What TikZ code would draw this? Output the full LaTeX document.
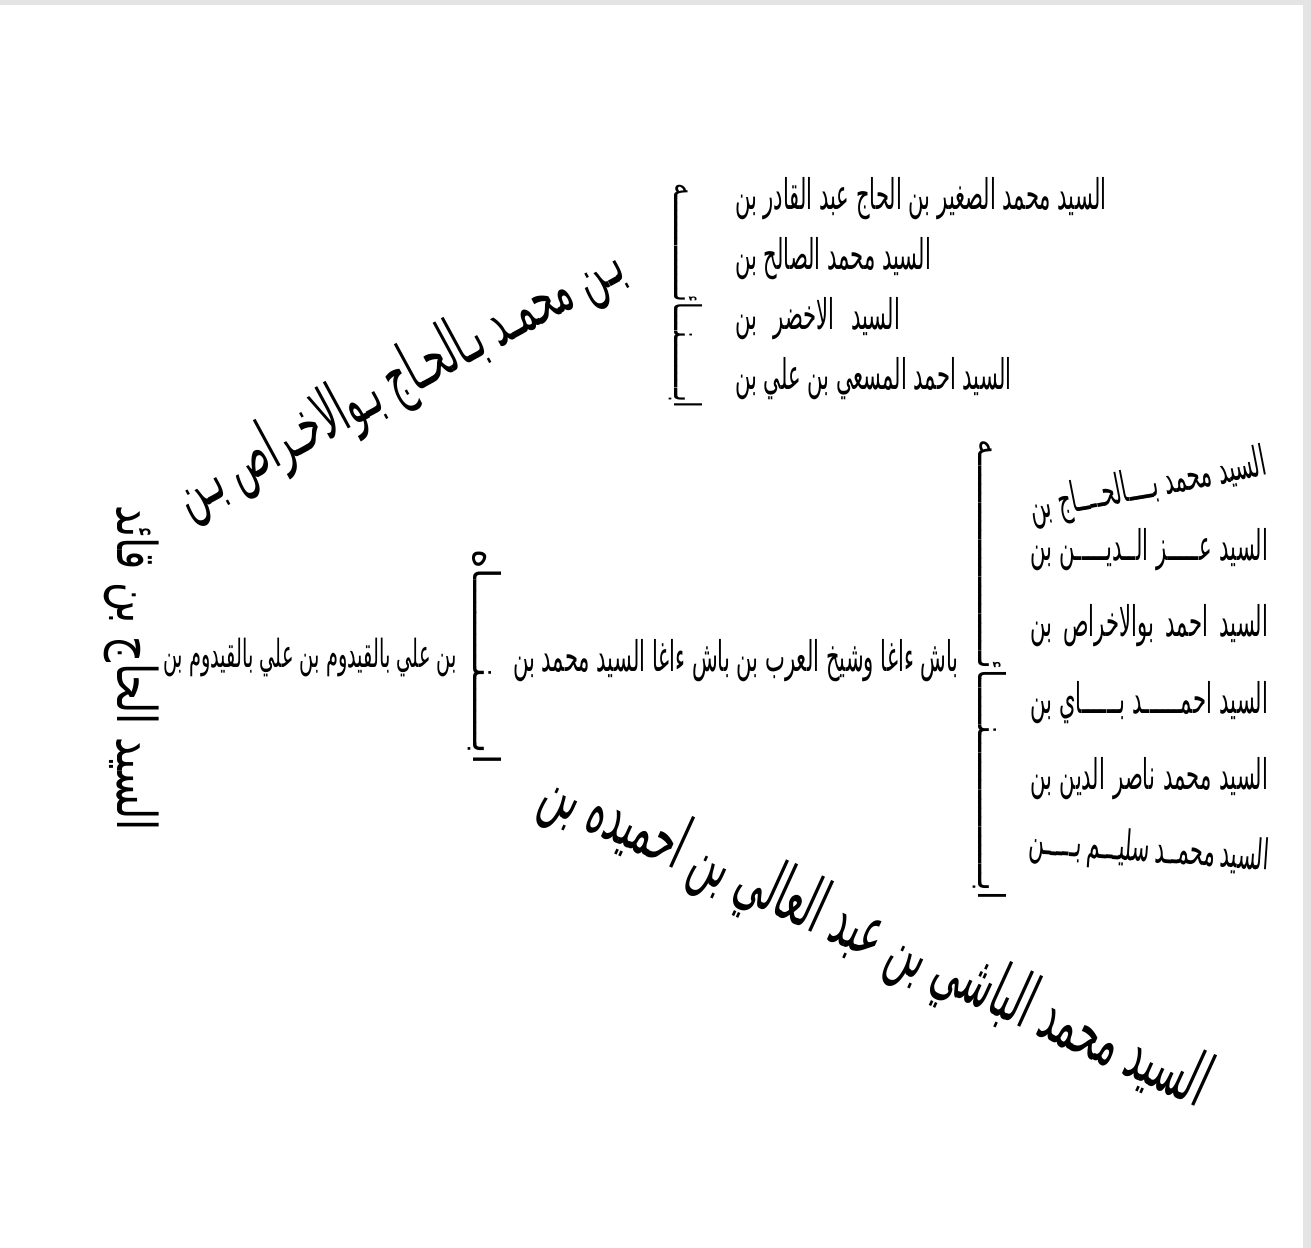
\documentclass[tikz,border=0pt]{standalone}
\usepackage{fontspec}
\usepackage{graphicx}
\TeXXeTstate=1
\newfontfamily\arabicfont[Script=Arabic,FakeStretch=0.5]{DejaVu Sans}
\definecolor{pageedge}{HTML}{E4E4E4}
\newcommand{\ar}[1]{{\arabicfont\beginR #1\endR}}
\newcommand{\arfit}[2]{\resizebox{#1}{!}{\ar{#2}}}
\newcommand{\arjust}[2]{\makebox[#1][s]{\ar{#2}}}
\newcommand{\arbrace}[2]{\resizebox{#1}{0.28cm}{\ar{#2}}}

\begin{document}
\begin{tikzpicture}[
    x=0.01cm, y=-0.01cm,
    nasab/.style={inner sep=0pt, outer sep=0pt, font=\fontsize{11}{13}\selectfont},
    row/.style={nasab, font=\fontsize{12}{14}\selectfont},
    brace/.style={nasab, rotate=-90}
  ]

    \useasboundingbox (0,0) rectangle (1311,1248);
    \fill[pageedge] (0,0) rectangle (1311,1248);
    \fill[white] (0,5) rectangle (1303,1248);

    % top group
    \node[row, anchor=west] (saghir) at (735,199) {\ar{السيد محمد الصغير بن الحاج عبد القادر بن}};
    \node[row, anchor=west] (salih) at (735,259) {\ar{السيد محمد الصالح بن}};
    \node[row, anchor=west] (akhdar) at (735,319) {\arjust{1.65cm}{السيد الاخضر بن}};
    \node[row, anchor=west] (masai) at (735,379) {\ar{السيد احمد المسعي بن علي بن}};
    \node[brace] (abnatop) at (686,296) {\arbrace{2.25cm}{ابــــــــنـــائــــــــــــــه}};

    % right group
    \node[row, rotate=11] (belhadj) at (1148,487) {\arjust{2.4cm}{السيد محمد بــــالحــــاج بن}};
    \node[row, anchor=west] (ezzedine) at (1030,550) {\arjust{2.38cm}{السيد عـــــز الــديـــــن بن}};
    \node[row, anchor=west] (boukhras) at (1030,626) {\arjust{2.38cm}{السيد احمد بوالاخراص بن}};
    \node[row, anchor=west] (bay) at (1030,703) {\arjust{2.38cm}{السيد احمــــــد بــــــاي بن}};
    \node[row, anchor=west] (nasir) at (1030,779) {\arjust{2.38cm}{السيد محمد ناصر الدين بن}};
    \node[row, rotate=-4] (salim) at (1149,851) {\arjust{2.4cm}{السيد محمــد سليـــم بـــــن}};
    \node[brace] (abnaright) at (990,670) {\arbrace{4.6cm}{ابــــــــــــــــنـــــائــــــــــــــــــــــه}};

    % middle line
    \node[row] (bashagha) at (736,661) {\ar{باش ءاغا وشيخ العرب بن باش ءاغا السيد محمد بن}};
    \node[brace] (abnamid) at (485,657) {\arbrace{2.15cm}{ابــــــنــــــــاه}};
    \node[nasab] (qaydum) at (310,658) {\ar{بن علي بالقيدوم بن علي بالقيدوم بن}};

    % diagonals
    \node[nasab, rotate=28.5] (bouakhras) at (400,381) {\arfit{5.0cm}{بـن محمـد بـالحـاج بـوالاخـراص بـن}};
    \node[nasab, rotate=-24.5] (bashi) at (875,940) {\arfit{7.25cm}{السيد محمد الباشي بن عبد العالي بن احميده بن}};

    % ancestor
    \node[nasab, rotate=-90] (qaid) at (132,668) {\resizebox*{3.25cm}{0.55cm}{\ar{السيد الحاج بن قائد}}};

  \end{tikzpicture}
\end{document}
